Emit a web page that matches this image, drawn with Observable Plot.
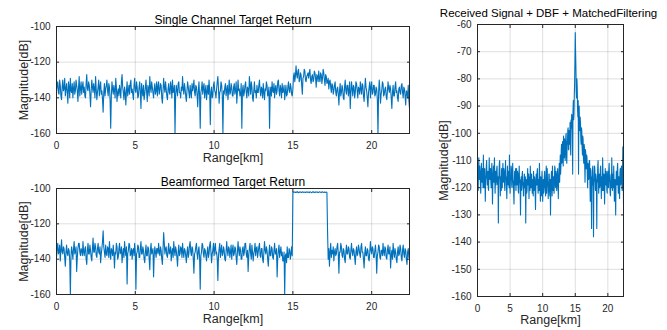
<!DOCTYPE html>
<html>
<head>
<meta charset="utf-8">
<script src="https://cdn.jsdelivr.net/npm/d3@7"></script>
<script src="https://cdn.jsdelivr.net/npm/@observablehq/plot@0.6"></script>
<style>
  html, body { margin: 0; padding: 0; background: #fff; }
  #root { position: relative; width: 667px; height: 330px; overflow: hidden; background: #fff; }
  #root > svg { position: absolute; }
</style>
</head>
<body>
<div id="root"></div>
<script>
// ---------- data ----------
const titles = ["Single Channel Target Return", "Beamformed Target Return", "Received Signal + DBF + MatchedFiltering"];
const xLabel = "Range[km]";
const yLabel = "Magnitude[dB]";
const xTicks = [0, 5, 10, 15, 20];
const xDomain = [0, 22.4];
const yTicksLeft = [-160, -140, -120, -100];
const yDomainLeft = [-160, -100];
const yTicksRight = [-160, -150, -140, -130, -120, -110, -100, -90, -80, -70, -60];
const yDomainRight = [-160, -60];
const leftRangeStep = 0.04;   // km between samples (left panels)
const rightRangeStep = 0.05;  // km between samples (right panel)

const singleChannelDb = [
  -136,-133,-131,-137,-138,-130,-133,-139,-141,-134,-130,-136,-135,-129,-139,-135,-132,-137,-143,-131,-134,-140,-129,-136,-137,-132,-140,-135,-131,-138,-136,-130,-133,-136,-142,-134,-128,-139,-135,-131,
  -138,-134,-131,-137,-134,-139,-140,-132,-127,-135,-136,-131,-133,-138,-145,-136,-130,-134,-137,-132,-135,-140,-128,-135,-141,-137,-134,-130,-139,-134,-131,-138,-136,-141,-148,-137,-132,-139,-135,-133,
  -130,-136,-139,-132,-134,-141,-157,-139,-131,-135,-138,-133,-136,-140,-129,-134,-142,-137,-135,-139,-133,-136,-140,-131,-127,-134,-137,-141,-134,-137,-144,-136,-131,-139,-136,-133,-138,-132,-130,-137,
  -135,-138,-141,-133,-129,-136,-137,-131,-134,-140,-139,-134,-131,-137,-146,-132,-136,-139,-133,-141,-138,-134,-130,-137,-142,-133,-135,-139,-128,-134,-137,-131,-134,-137,-140,-135,-132,-138,-136,-131,
  -139,-134,-131,-138,-136,-132,-133,-140,-143,-136,-129,-134,-137,-131,-135,-139,-141,-135,-132,-137,-138,-131,-134,-140,-130,-137,-136,-133,-160,-138,-133,-136,-139,-132,-131,-137,-137,-140,-134,-136,
  -128,-135,-138,-132,-135,-139,-142,-136,-131,-134,-137,-140,-133,-137,-140,-132,-136,-134,-130,-137,-139,-133,-134,-138,-145,-136,-131,-139,-157,-137,-135,-131,-138,-134,-132,-140,-136,-133,-141,-137,
  -133,-138,-130,-136,-155,-137,-134,-140,-139,-133,-131,-136,-137,-140,-135,-131,-128,-135,-143,-137,-136,-131,-133,-139,-160,-136,-138,-134,-132,-139,-136,-133,-141,-136,-130,-138,-137,-132,-134,-139,
  -139,-134,-132,-138,-136,-131,-143,-137,-130,-136,-135,-139,-138,-132,-157,-136,-133,-139,-137,-133,-131,-137,-140,-134,-135,-139,-128,-133,-138,-131,-134,-140,-142,-136,-131,-137,-136,-140,-133,-137,
  -137,-133,-130,-136,-139,-134,-135,-140,-132,-137,-141,-135,-136,-131,-133,-139,-138,-134,-157,-137,-134,-139,-131,-136,-137,-132,-140,-135,-133,-138,-136,-131,-130,-136,-139,-133,-135,-140,-132,-137,
  -136,-133,-141,-137,-133,-139,-138,-134,-131,-136,-137,-132,-134,-138,-139,-135,-128,-126,-131,-128,-122,-127,-129,-125,-124,-131,-130,-126,-127,-133,-138,-129,-128,-124,-125,-130,-131,-128,-127,-126,
  -129,-126,-124,-130,-132,-128,-127,-131,-130,-125,-126,-129,-134,-127,-128,-131,-125,-129,-131,-126,-127,-132,-129,-124,-126,-130,-133,-127,-128,-132,-131,-129,-135,-131,-130,-134,-137,-132,-133,-138,
  -136,-133,-131,-137,-139,-135,-134,-138,-144,-136,-132,-139,-137,-133,-135,-140,-141,-134,-130,-136,-138,-133,-133,-139,-136,-131,-146,-137,-131,-135,-139,-133,-134,-140,-137,-131,-132,-136,-140,-134,
  -135,-138,-131,-135,-138,-132,-133,-139,-142,-135,-129,-134,-136,-140,-145,-137,-134,-131,-140,-134,-131,-138,-137,-133,-133,-139,-138,-134,-135,-141,-160,-137,-130,-135,-143,-138,-136,-131,-132,-139,
  -138,-135,-134,-139,-141,-136,-131,-135,-137,-133,-135,-140,-146,-137,-133,-139,-139,-134,-131,-137,-136,-140,-142,-135,-134,-137,-138,-133,-132,-137,-140,-134,-135,-139,-144,-136,-137,-140,-133,-141,
  -146
];

const beamformedDb = [
  -139,-134,-131,-137,-136,-132,-141,-135,-129,-136,-137,-133,-134,-139,-144,-136,-132,-137,-138,-134,-135,-141,-160,-138,-133,-136,-140,-134,-130,-137,-136,-133,-147,-139,-134,-131,-131,-136,-138,-134,
  -135,-138,-130,-136,-138,-134,-133,-140,-143,-135,-131,-137,-137,-132,-135,-139,-141,-134,-128,-136,-136,-131,-133,-138,-139,-134,-131,-136,-137,-133,-142,-137,-134,-130,-124,-133,-136,-139,-132,-137,
  -138,-133,-134,-139,-130,-136,-140,-134,-135,-138,-132,-137,-145,-136,-137,-131,-133,-140,-139,-134,-131,-137,-136,-133,-142,-137,-134,-139,-130,-135,-138,-133,-154,-137,-135,-131,-132,-138,-137,-134,
  -140,-135,-134,-138,-131,-136,-157,-137,-136,-132,-133,-139,-139,-134,-130,-137,-137,-133,-135,-140,-142,-136,-132,-138,-138,-133,-134,-140,-146,-135,-131,-137,-136,-134,-150,-138,-133,-136,-139,-134,
  -134,-137,-131,-136,-138,-133,-135,-140,-143,-134,-125,-131,-137,-134,-133,-138,-139,-135,-131,-137,-136,-133,-141,-136,-134,-139,-130,-135,-138,-133,-135,-139,-144,-136,-132,-138,-137,-133,-134,-139,
  -131,-136,-139,-134,-135,-138,-142,-136,-133,-139,-137,-132,-130,-136,-138,-133,-134,-140,-148,-137,-136,-133,-131,-137,-140,-135,-133,-139,-157,-138,-136,-131,-132,-137,-139,-134,-135,-138,-141,-136,
  -133,-139,-137,-132,-130,-136,-142,-137,-135,-131,-138,-134,-131,-137,-136,-140,-152,-138,-134,-131,-139,-135,-132,-138,-137,-133,-135,-140,-141,-136,-130,-135,-138,-133,-134,-139,-136,-132,-140,-135,
  -132,-138,-137,-133,-134,-139,-143,-136,-130,-135,-138,-133,-135,-140,-140,-134,-133,-138,-136,-131,-131,-137,-139,-135,-147,-138,-134,-131,-137,-140,-132,-136,-141,-137,-135,-131,-138,-134,-133,-139,
  -136,-133,-131,-138,-139,-134,-134,-140,-142,-136,-130,-135,-137,-133,-135,-140,-144,-137,-132,-138,-138,-133,-134,-139,-140,-135,-131,-137,-137,-134,-150,-139,-135,-132,-139,-136,-133,-138,-136,-141,
  -141,-136,-160,-138,-137,-142,-133,-139,-139,-134,-135,-140,-137,-133,-138,-102,-102.2,-101.9,-102.1,-102.3,-102,-102.2,-101.8,-102.1,-102.4,-102,-102.2,-101.9,-102.1,-102.3,-102,-101.9,-102.2,-102.1,-102,-102.3,-102.1,-101.9,-102.2,-102,
  -102.1,-102.3,-101.9,-102,-102.2,-102.4,-102,-101.8,-102.1,-102.3,-102,-102.2,-101.9,-102.1,-102,-102.3,-102.2,-101.9,-102,-102.1,-102.3,-102,-101.9,-102.2,-102.1,-102,-102.3,-102.1,-102,-102.2,-124,-140,-134,-144,-136,-131,-139,-135,-137,-133,
  -141,-136,-134,-138,-137,-133,-131,-137,-148,-136,-136,-131,-133,-138,-139,-134,-135,-140,-142,-136,-132,-137,-137,-133,-134,-139,-140,-135,-131,-136,-138,-134,-135,-139,-143,-136,-133,-138,-137,-132,
  -134,-137,-139,-133,-131,-136,-136,-140,-145,-137,-133,-138,-138,-134,-135,-140,-141,-136,-130,-135,-137,-133,-134,-139,-139,-135,-132,-137,-148,-138,-136,-132,-133,-139,-140,-135,-135,-138,-131,-136,
  -138,-133,-134,-139,-140,-135,-132,-137,-137,-133,-145,-138,-135,-140,-131,-136,-139,-134,-136,-140,-142,-136,-133,-138,-137,-132,-134,-139,-141,-135,-132,-137,-139,-134,-135,-140,-143,-136,-134,-139,
  -138
];

const matchedFilterDb = [
  -112,-117,-121,-114,-109,-115,-117,-112,-114,-119,-122,-116,-111,-117,-118,-113,-115,-120,-108,-114,-120,-116,-113,-118,-125,-117,-116,-112,-110,-116,-119,-115,-114,-120,-121,-115,-109,-116,-117,-113,
  -113,-118,-120,-115,-111,-117,-126,-119,-115,-112,-118,-114,-109,-116,-122,-117,-114,-119,-117,-113,-112,-118,-119,-116,-133,-118,-115,-111,-110,-116,-123,-117,-116,-121,-113,-118,-120,-114,-111,-117,
  -118,-113,-114,-119,-121,-116,-110,-117,-116,-120,-124,-117,-112,-118,-119,-114,-115,-120,-108,-116,-122,-117,-117,-112,-113,-119,-120,-116,-111,-117,-118,-122,-126,-118,-114,-119,-116,-113,-121,-117,
  -113,-118,-119,-114,-115,-121,-122,-116,-112,-118,-117,-121,-130,-119,-116,-121,-120,-115,-114,-119,-118,-123,-123,-117,-115,-120,-119,-116,-133,-120,-117,-122,-121,-116,-113,-119,-119,-115,-124,-118,
  -116,-121,-112,-118,-120,-115,-115,-119,-122,-117,-118,-123,-114,-119,-121,-116,-117,-122,-128,-120,-115,-119,-119,-114,-113,-118,-122,-117,-117,-121,-111,-116,-120,-125,-116,-119,-123,-118,-114,-120,
  -125,-119,-117,-122,-121,-116,-114,-120,-119,-123,-116,-112,-122,-118,-113,-119,-118,-124,-120,-115,-115,-121,-123,-117,-130,-121,-117,-114,-119,-123,-112,-118,-121,-116,-116,-122,-118,-112,-113,-119,
  -120,-114,-116,-121,-119,-115,-113,-118,-124,-116,-115,-111,-118,-113,-108,-115,-112,-106,-104,-111,-110,-103,-106,-112,-101,-107,-109,-102,-103,-110,-107,-101,-100,-108,-111,-103,-104,-99,-98,-106,
  -106,-99,-101,-104,-96,-102,-108,-95,-98,-93,-94,-100,-115,-92,-88,-95,-93,-86,-82,-73,-63,-70,-76,-84,-87,-80,-83,-91,-94,-88,-115,-95,-90,-97,-99,-94,-96,-102,-104,-98,
  -99,-105,-108,-101,-102,-109,-111,-104,-105,-112,-118,-106,-107,-113,-113,-108,-109,-116,-120,-111,-112,-117,-116,-110,-110,-118,-125,-113,-114,-120,-135,-116,-119,-113,-112,-121,-138,-118,-117,-112,
  -113,-118,-121,-115,-116,-120,-135,-117,-118,-112,-110,-117,-122,-116,-115,-120,-119,-113,-112,-118,-124,-116,-117,-121,-109,-115,-121,-117,-115,-120,-126,-118,-113,-119,-119,-114,-116,-121,-122,-115,
  -114,-119,-120,-113,-111,-117,-118,-122,-123,-116,-115,-120,-109,-116,-121,-115,-116,-120,-112,-118,-125,-117,-117,-121,-130,-118,-114,-119,-119,-113,-111,-117,-122,-116,-116,-121,-124,-115,-113,-119,
  -118,-113,-112,-119,-121,-114,-105,-110,-126
];

// ---------- drawing ----------
const font = "Arial, 'Liberation Sans', Helvetica, sans-serif";
const ink = "#262626";
const lineColor = "#0072BD";

function toRows(values, step) {
  return values.map((v, i) => ({range: +(i * step).toFixed(3), db: v}));
}

function panel({rows, title, yTicks, yDomain, width, height, margins, left, top, titleDx = 0, titleDy = -11, titleSize = 12, labelDy = 28, yLabelDx = -33}) {
  const fmt = d => String(d);
  const blank = () => "";
  const svg = Plot.plot({
    width, height,
    marginLeft: margins[0], marginRight: margins[1], marginTop: margins[2], marginBottom: margins[3],
    style: {background: "transparent", overflow: "visible", fontFamily: font, fontSize: "10px", color: ink},
    x: {domain: xDomain, ticks: xTicks},
    y: {domain: yDomain, ticks: yTicks},
    marks: [
      Plot.gridX(xTicks, {stroke: "#000", strokeOpacity: 0.13}),
      Plot.gridY(yTicks, {stroke: "#000", strokeOpacity: 0.13}),
      Plot.line(rows, {x: "range", y: "db", stroke: lineColor, strokeWidth: 1.1, clip: true}),
      Plot.frame({stroke: ink, strokeWidth: 1}),
      Plot.axisX(xTicks, {anchor: "bottom", tickSize: -3, tickPadding: 11, tickFormat: fmt, label: null, stroke: ink, fill: ink}),
      Plot.axisX(xTicks, {anchor: "top", tickSize: -3, tickFormat: blank, label: null, stroke: ink}),
      Plot.axisY(yTicks, {anchor: "left", tickSize: -3, tickPadding: 9, tickFormat: fmt, label: null, stroke: ink, fill: ink}),
      Plot.axisY(yTicks, {anchor: "right", tickSize: -3, tickFormat: blank, label: null, stroke: ink}),
      Plot.text([title], {text: d => d, frameAnchor: "top", textAnchor: "middle", dy: titleDy, dx: titleDx, fontSize: titleSize, fill: "#000", fontFamily: font}),
      Plot.text([xLabel], {text: d => d, frameAnchor: "bottom", textAnchor: "middle", dy: labelDy, fontSize: 12.5, fill: ink, fontFamily: font}),
      Plot.text([yLabel], {text: d => d, frameAnchor: "left", textAnchor: "middle", dx: yLabelDx, rotate: -90, fontSize: 12.5, fill: ink, fontFamily: font})
    ]
  });
  svg.style.left = left + "px";
  svg.style.top = top + "px";
  return svg;
}

const root = document.getElementById("root");
root.appendChild(panel({
  rows: toRows(singleChannelDb, leftRangeStep), title: titles[0],
  yTicks: yTicksLeft, yDomain: yDomainLeft,
  width: 420, height: 170, margins: [56, 11, 26, 37], left: 0, top: 0
}));
root.appendChild(panel({
  rows: toRows(beamformedDb, leftRangeStep), title: titles[1],
  yTicks: yTicksLeft, yDomain: yDomainLeft,
  width: 420, height: 170, margins: [56, 11, 28, 36], left: 0, top: 160
}));
root.appendChild(panel({
  rows: toRows(matchedFilterDb, rightRangeStep), title: titles[2],
  yTicks: yTicksRight, yDomain: yDomainRight,
  width: 247, height: 330, margins: [57, 44, 24, 34], left: 420, top: 0, titleDx: -2, titleDy: -16, titleSize: 11.5, yLabelDx: -34, labelDy: 27
}));
</script>
</body>
</html>
